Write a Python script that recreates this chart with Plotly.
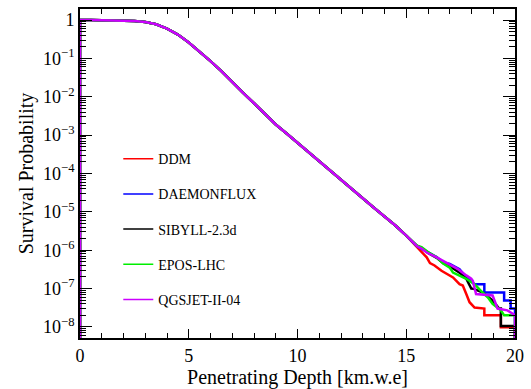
import plotly.graph_objects as go

# ---------------- data ----------------
# shared body of all five curves (depth in km.w.e, survival probability)
depth_body = [0.0, 0.0, 0.5, 1.0, 1.5, 2.0, 2.5, 3.0, 3.5, 4.0, 4.5, 5.0, 5.5, 6.0,
              6.5, 7.0, 7.5, 8.0, 8.5, 9.0, 9.5, 10.0, 10.5, 11.0, 11.5, 12.0,
              12.5, 13.0, 13.5, 14.0, 14.5, 15.0, 15.3]
prob_body = [1e-10, 1.0, 1.0, 0.998, 0.99, 0.975, 0.95, 0.89, 0.78, 0.60, 0.42, 0.26,
             0.15, 0.085, 0.047, 0.024, 0.0126, 6.8e-3, 3.5e-3, 1.9e-3, 1.1e-3,
             6.3e-4, 3.6e-4, 2.0e-4, 1.15e-4, 6.6e-5, 3.8e-5, 2.2e-5, 1.3e-5,
             7.6e-6, 4.4e-6, 2.4e-6, 1.6e-6]

# model-specific tails
ddm_depth = [15.5, 15.7, 15.94, 16.09, 16.3, 16.62, 16.9, 17.15, 17.45, 17.6, 17.76, 17.91,
             18.14, 18.59, 18.59, 19.35, 19.35, 20.0, 20.0]
ddm_prob = [1.2e-6, 9.5e-7, 6.5e-7, 4.6e-7, 4.0e-7, 2.9e-7, 2.4e-7, 1.95e-7, 1.3e-7, 1.2e-7,
            7.2e-8, 4.4e-8, 3.2e-8, 3.0e-8, 2.0e-8, 2.0e-8, 9.8e-9, 9.8e-9, 1e-10]

daemon_depth = [15.5, 15.7, 16.0, 16.4, 16.7, 17.0, 17.45, 17.68, 18.14, 18.59, 18.59, 19.5,
                19.5, 19.8, 19.8, 20.0, 20.0]
daemon_prob = [1.26e-6, 1.1e-6, 8.7e-7, 6.6e-7, 4.8e-7, 4.4e-7, 3.2e-7, 2.2e-7, 1.3e-7, 1.3e-7,
               7.9e-8, 7.9e-8, 4.9e-8, 4.9e-8, 3.0e-8, 3.0e-8, 1e-10]

sibyll_depth = [15.5, 15.7, 16.0, 16.4, 16.7, 17.0, 17.45, 17.76, 17.99, 18.1, 18.5, 18.97,
                19.27, 19.35, 19.35, 20.0, 20.0]
sibyll_prob = [1.3e-6, 1.15e-6, 8.5e-7, 6.3e-7, 4.6e-7, 3.8e-7, 2.6e-7, 1.8e-7, 1.0e-7, 9.8e-8,
               8.0e-8, 4.9e-8, 3.0e-8, 3.0e-8, 1.05e-8, 1.05e-8, 1e-10]

epos_depth = [15.5, 15.7, 16.0, 16.4, 16.7, 17.0, 17.15, 17.76, 18.14, 18.5, 18.75, 18.97,
              19.35, 19.5, 20.0, 20.0]
epos_prob = [1.3e-6, 1.2e-6, 9.0e-7, 6.5e-7, 4.5e-7, 3.5e-7, 2.6e-7, 1.8e-7, 1.3e-7, 8.0e-8,
             5.9e-8, 4.0e-8, 2.7e-8, 2.0e-8, 2.0e-8, 1e-10]

qgs_depth = [15.5, 15.7, 15.94, 16.4, 16.85, 17.38, 17.76, 17.99, 18.06, 18.21, 18.97, 19.2,
             19.65, 19.95, 20.0, 20.0]
qgs_prob = [1.26e-6, 1.1e-6, 8.7e-7, 6.5e-7, 4.8e-7, 3.2e-7, 2.2e-7, 1.8e-7, 1.6e-7, 7.2e-8,
            6.6e-8, 3.0e-8, 2.7e-8, 2.0e-8, 2.0e-8, 1e-10]

model_names = ["DDM", "DAEMONFLUX", "SIBYLL-2.3d", "EPOS-LHC", "QGSJET-II-04"]
model_colors = ["#ff0000", "#0000ff", "#000000", "#00ee00", "#cc00ff"]
tails = [(ddm_depth, ddm_prob), (daemon_depth, daemon_prob),
         (sibyll_depth, sibyll_prob), (epos_depth, epos_prob), (qgs_depth, qgs_prob)]

y_tick_vals = [1, 1e-1, 1e-2, 1e-3, 1e-4, 1e-5, 1e-6, 1e-7, 1e-8]
y_tick_text = ["1"] + ["10<sup>\u2212%d</sup>" % k for k in range(1, 9)]
x_tick_vals = [0, 5, 10, 15, 20]

FONT = "Liberation Serif"

fig = go.Figure()
for name, color, (td, tp) in zip(model_names, model_colors, tails):
    fig.add_trace(go.Scatter(x=depth_body + td, y=prob_body + tp, mode="lines",
                             line=dict(color=color, width=2.5), showlegend=False,
                             hoverinfo="skip"))
for i, (name, color) in enumerate(zip(model_names, model_colors)):
    fig.add_trace(go.Scatter(x=[None], y=[None], mode="lines", name=name,
                             line=dict(color=color, width=1.5), legendgroup=str(i)))

fig.update_layout(
    width=531, height=389,
    margin=dict(l=80, r=12, t=7, b=51),
    paper_bgcolor="white", plot_bgcolor="white",
    font=dict(family=FONT, color="black", size=14),
    showlegend=True,
    legend=dict(x=0.088, y=0.331, xanchor="left", yanchor="middle",
                bgcolor="rgba(0,0,0,0)", font=dict(size=14, family=FONT),
                traceorder="grouped", tracegroupgap=14, itemwidth=30),
)
fig.update_xaxes(range=[0, 20], tickvals=x_tick_vals, ticktext=[str(v) for v in x_tick_vals],
                 ticks="inside", ticklen=9, tickwidth=1.2, tickcolor="black",
                 minor=dict(ticks="inside", dtick=1, ticklen=5, tickwidth=1, tickcolor="black"),
                 showline=True, linecolor="black", linewidth=1.8, mirror="allticks",
                 showgrid=False, zeroline=False,
                 tickfont=dict(size=18, family=FONT),
                 title=dict(text="Penetrating Depth [km.w.e]", font=dict(size=20, family=FONT),
                            standoff=2))
fig.update_yaxes(type="log", range=[-8.29, 0.29], tickvals=y_tick_vals, ticktext=y_tick_text,
                 ticks="inside", ticklen=12, tickwidth=1.2, tickcolor="black",
                 minor=dict(ticks="inside", dtick="D1", ticklen=6, tickwidth=1, tickcolor="black"),
                 showline=True, linecolor="black", linewidth=1.8, mirror="allticks",
                 showgrid=False, zeroline=False,
                 tickfont=dict(size=18, family=FONT),
                 title=dict(text="Survival Probability", font=dict(size=20, family=FONT),
                            standoff=4))

fig.write_html("out.html")
